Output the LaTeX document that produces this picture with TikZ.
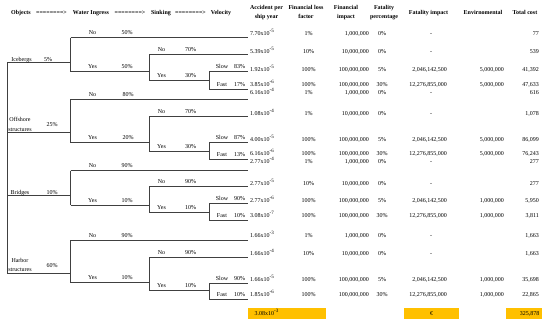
\documentclass[tikz,border=0pt]{standalone}
\usepackage{fontspec}
\setmainfont{Liberation Serif}
\definecolor{gold}{RGB}{255,192,0}
\newcommand\scinum[2]{#1x10\textsuperscript{#2}}
% tree lines of one object group
\newcommand\mkgroup[8]{%
  \coordinate (#1o) at (7,#2);
  \coordinate (#1w) at (70.7,#2);
  \coordinate (#1wn) at (70.7,#3);
  \coordinate (#1wne) at (248,#3);
  \coordinate (#1wy) at (70.7,#4);
  \coordinate (#1s) at (149.3,#4);
  \coordinate (#1sn) at (149.3,#5);
  \coordinate (#1sne) at (248,#5);
  \coordinate (#1sy) at (149.3,#6);
  \coordinate (#1v) at (209.3,#6);
  \coordinate (#1vs) at (209.3,#7);
  \coordinate (#1vse) at (248,#7);
  \coordinate (#1vf) at (209.3,#8);
  \coordinate (#1vfe) at (248,#8);
  \draw[tl] (#1o)--(#1w) (#1wn)--(#1wy) (#1wn)--(#1wne) (#1wy)--(#1s)
            (#1sn)--(#1sy) (#1sn)--(#1sne) (#1sy)--(#1v)
            (#1vs)--(#1vf) (#1vs)--(#1vse) (#1vf)--(#1vfe);
}
% a pair of branch labels: prefix, x label, x pct, y line A, y line B, label A, label B, pct A, pct B
\newcommand\pairlab[9]{%
  \node[lbl] (#1a) at (#2,#4-2.8) {#6};
  \node[lbl] (#1pa) at (#3,#4-2.8) {#8};
  \node[lbl] (#1b) at (#2,#5-2.8) {#7};
  \node[lbl] (#1pb) at (#3,#5-2.8) {#9};
}
% row without fatality
\newcommand\valrowA[7]{%
  \node[lbl,anchor=base west] (#1acc) at (250,#2+2) {#3};
  \node[lbl] (#1flf) at (308.5,#2+2) {#4};
  \node[lbl,anchor=base east] (#1fi) at (369,#2+2) {#5};
  \node[lbl] (#1fp) at (382,#2+2) {#6};
  \node[lbl] (#1fim) at (431,#2+2) {-};
  \node[lbl,anchor=base east] (#1tot) at (539,#2+2) {#7};
}
% row with fatality
\newcommand\valrowB[9]{%
  \node[lbl,anchor=base west] (#1acc) at (250,#2+2) {#3};
  \node[lbl] (#1flf) at (308.5,#2+2) {#4};
  \node[lbl,anchor=base east] (#1fi) at (369,#2+2) {#5};
  \node[lbl] (#1fp) at (382,#2+2) {#6};
  \node[lbl,anchor=base east] (#1fim) at (447,#2+2) {#7};
  \node[lbl,anchor=base east] (#1env) at (504,#2+2) {#8};
  \node[lbl,anchor=base east] (#1tot) at (539,#2+2) {#9};
}
\begin{document}
\begin{tikzpicture}[x=1pt,y=-1pt,
  tl/.style={line width=0.55pt,draw=black!75},
  lbl/.style={anchor=base,inner sep=0pt,font=\fontsize{6}{7}\selectfont},
  hdr/.style={inner sep=0pt,align=center,font=\bfseries\fontsize{6}{9.5}\selectfont},
  objlbl/.style={inner sep=0pt,align=center,anchor=south,font=\fontsize{6}{9.2}\selectfont}]
\useasboundingbox (0,0) rectangle (550,324);
\fill[white] (0,0) rectangle (550,324);

% headers
\node[hdr,anchor=base] (hobj) at (21,14.7) {Objects};
\node[hdr,anchor=base] (har1) at (51.5,14.7) {========>};
\node[hdr,anchor=base] (hwat) at (91,14.7) {Water Ingress};
\node[hdr,anchor=base] (har2) at (130,14.7) {========>};
\node[hdr,anchor=base] (hsin) at (161,14.7) {Sinking};
\node[hdr,anchor=base] (har3) at (190.5,14.7) {========>};
\node[hdr,anchor=base] (hvel) at (221,14.7) {Velocity};
\node[hdr,anchor=north] (hacc) at (266.5,5) {Accident per\\ship year};
\node[hdr,anchor=north] (hflf) at (306,5) {Financial loss\\factor};
\node[hdr,anchor=north] (hfi) at (346,5) {Financial\\impact};
\node[hdr,anchor=north] (hfp) at (384,5) {Fatality\\percentage};
\node[hdr,anchor=base] (hfim) at (428.5,14.7) {Fatality impact};
\node[hdr,anchor=base] (henv) at (483,14.7) {Envirnomental};
\node[hdr,anchor=base] (htot) at (525,14.7) {Total cost};

% tree
\mkgroup{ice}{62.7}{37.5}{71.7}{54}{80}{71.7}{89.3}
\mkgroup{off}{132.7}{99.3}{142.5}{116}{151.7}{142.5}{159.3}
\mkgroup{bri}{195.7}{170.5}{205}{186.7}{212.7}{203.5}{219.8}
\mkgroup{har}{273.5}{240}{282.7}{257.3}{290.5}{283.3}{299.3}
\draw[tl] (iceo)--(haro);

% object labels
\node[lbl] (lice) at (21.5,61.2) {Icebergs};
\node[lbl] (pice) at (48,61.2) {5\%};
\node[objlbl] (loff) at (20,131.3) {Offshore\\structures};
\node[lbl] (poff) at (52,126.7) {25\%};
\node[lbl] (lbri) at (20,194.2) {Bridges};
\node[lbl] (pbri) at (52,194.2) {10\%};
\node[objlbl] (lhar) at (20,272) {Harbor\\structures};
\node[lbl] (phar) at (52,267.5) {60\%};

% branch labels
\pairlab{icew}{92.5}{127}{37.5}{71.7}{No}{Yes}{50\%}{50\%}
\pairlab{ices}{161.5}{190.5}{54}{80}{No}{Yes}{70\%}{30\%}
\pairlab{icev}{222}{239.5}{71.7}{89.3}{Slow}{Fast}{83\%}{17\%}
\pairlab{offw}{92.5}{128}{99.3}{142.5}{No}{Yes}{80\%}{20\%}
\pairlab{offs}{161.5}{190.5}{116}{151.7}{No}{Yes}{70\%}{30\%}
\pairlab{offv}{222}{239.5}{142.5}{159.3}{Slow}{Fast}{87\%}{13\%}
\pairlab{briw}{92.5}{127}{170.5}{205}{No}{Yes}{90\%}{10\%}
\pairlab{bris}{161.5}{190.5}{186.7}{212.7}{No}{Yes}{90\%}{10\%}
\pairlab{briv}{222}{239.5}{203.5}{219.8}{Slow}{Fast}{90\%}{10\%}
\pairlab{harw}{92.5}{127}{240}{282.7}{No}{Yes}{90\%}{10\%}
\pairlab{hars}{161.5}{190.5}{257.3}{290.5}{No}{Yes}{90\%}{10\%}
\pairlab{harv}{222}{239.5}{283.3}{299.3}{Slow}{Fast}{90\%}{10\%}

% values
\valrowA{r1}{33.3}{\scinum{7.70}{-5}}{1\%}{1,000,000}{0\%}{77}
\valrowA{r2}{51}{\scinum{5.39}{-5}}{10\%}{10,000,000}{0\%}{539}
\valrowB{r3}{69}{\scinum{1.92}{-5}}{100\%}{100,000,000}{5\%}{2,046,142,500}{5,000,000}{41,392}
\valrowB{r4}{84.3}{\scinum{3.85}{-6}}{100\%}{100,000,000}{30\%}{12,276,855,000}{5,000,000}{47,633}
\valrowA{r5}{92}{\scinum{6.16}{-4}}{1\%}{1,000,000}{0\%}{616}
\valrowA{r6}{113}{\scinum{1.08}{-4}}{1\%}{10,000,000}{0\%}{1,078}
\valrowB{r7}{139.5}{\scinum{4.00}{-5}}{100\%}{100,000,000}{5\%}{2,046,142,500}{5,000,000}{86,099}
\valrowB{r8}{153.3}{\scinum{6.16}{-6}}{100\%}{100,000,000}{30\%}{12,276,855,000}{5,000,000}{76,243}
\valrowA{r9}{161}{\scinum{2.77}{-4}}{1\%}{1,000,000}{0\%}{277}
\valrowA{r10}{183.5}{\scinum{2.77}{-5}}{10\%}{10,000,000}{0\%}{277}
\valrowB{r11}{200}{\scinum{2.77}{-6}}{100\%}{100,000,000}{5\%}{2,046,142,500}{1,000,000}{5,950}
\valrowB{r12}{215.5}{\scinum{3.08}{-7}}{100\%}{100,000,000}{30\%}{12,276,855,000}{1,000,000}{3,811}
\valrowA{r13}{235}{\scinum{1.66}{-3}}{1\%}{1,000,000}{0\%}{1,663}
\valrowA{r14}{253}{\scinum{1.66}{-4}}{10\%}{10,000,000}{0\%}{1,663}
\valrowB{r15}{279.5}{\scinum{1.66}{-5}}{100\%}{100,000,000}{5\%}{2,046,142,500}{1,000,000}{35,698}
\valrowB{r16}{294.5}{\scinum{1.85}{-6}}{100\%}{100,000,000}{30\%}{12,276,855,000}{1,000,000}{22,865}

% totals
\fill[gold] (248,308.3) rectangle (326,318.5);
\fill[gold] (404.3,308.3) rectangle (459,318.5);
\fill[gold] (506,308.3) rectangle (541.7,318.5);
\node[lbl,anchor=base west] (tacc) at (254.5,315.3) {\scinum{3.08}{-3}};
\node[lbl] (tfim) at (431.7,315.3) {€};
\node[lbl,anchor=base east] (ttot) at (539.5,315.3) {325,878};
\end{tikzpicture}
\end{document}
